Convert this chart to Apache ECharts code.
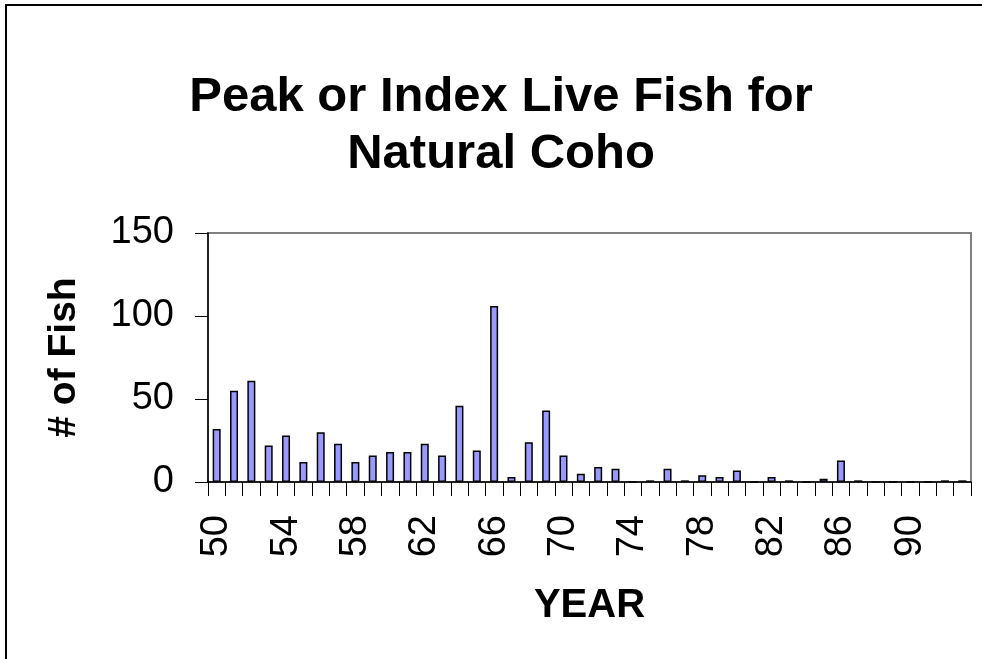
<!DOCTYPE html>
<html>
<head>
<meta charset="utf-8">
<script src="https://cdn.jsdelivr.net/npm/echarts@6/dist/echarts.min.js"></script>
<style>
  html, body { margin: 0; padding: 0; background: #fff; }
  #chart { width: 982px; height: 659px; }
</style>
</head>
<body>
<div id="chart"></div>
<script>
// years (two-digit, 1950-1993)
const years = ['50','51','52','53','54','55','56','57','58','59',
  '60','61','62','63','64','65','66','67','68','69',
  '70','71','72','73','74','75','76','77','78','79',
  '80','81','82','83','84','85','86','87','88','89',
  '90','91','92','93'];

// peak or index live fish count
const fishCounts = [32, 55, 61, 22, 28, 12, 30, 23, 12, 16,
  18, 18, 23, 16, 46, 19, 106, 3, 24, 43,
  16, 5, 9, 8, 0, 1, 8, 1, 4, 3,
  7, 0, 3, 1, 0, 2, 13, 1, 0, 0,
  0, 0, 1, 1];

const yTicks = [0, 50, 100, 150];

const font = 'Arial, "Liberation Sans", sans-serif';

let myChart = echarts.init(document.getElementById('chart'));

let option = {
  backgroundColor: '#fff',
  animation: false,
  title: {
    text: 'Peak or Index Live Fish for\nNatural Coho',
    left: 496,
    top: 64,
    textAlign: 'center',
    textStyle: {
      fontFamily: font,
      fontSize: 49,
      fontWeight: 'bold',
      color: '#000',
      lineHeight: 57,
    },
  },
  grid: {
    left: 208,
    right: 11,
    top: 233,
    bottom: 177,
    show: true,
    borderColor: '#808080',
    borderWidth: 2,
    backgroundColor: 'transparent',
  },
  xAxis: {
    type: 'category',
    data: years,
    name: 'YEAR',
    nameLocation: 'middle',
    nameGap: 104,
    nameTextStyle: { fontFamily: font, fontSize: 40, fontWeight: 'bold', color: '#000' },
    axisLine: { lineStyle: { color: '#000', width: 1.5 } },
    axisTick: { show: true, interval: 0, length: 14, lineStyle: { color: '#000' } },
    axisLabel: {
      interval: 3,
      rotate: 90,
      margin: 33,
      fontFamily: font,
      fontSize: 38,
      color: '#000',
    },
  },
  yAxis: {
    type: 'value',
    min: yTicks[0],
    max: yTicks[yTicks.length - 1],
    interval: 50,
    name: '# of Fish',
    nameLocation: 'middle',
    nameGap: 124,
    nameTextStyle: { fontFamily: font, fontSize: 39, fontWeight: 'bold', color: '#000' },
    axisLine: { show: true, lineStyle: { color: '#000', width: 1.5 } },
    axisTick: { show: true, length: 13, lineStyle: { color: '#000' } },
    splitLine: { show: false },
    axisLabel: {
      margin: 34,
      fontFamily: font,
      fontSize: 38,
      color: '#000',
    },
  },
  series: [
    {
      type: 'bar',
      data: fishCounts,
      barWidth: 8,
      itemStyle: {
        color: '#9999FF',
        borderColor: '#000',
        borderWidth: 1.5,
      },
    },
  ],
  graphic: [
    {
      // outer chart frame: only left and top edges fall inside the picture
      type: 'polyline',
      shape: { points: [[6, 2000], [6, 5], [2000, 5]] },
      style: { fill: 'none', stroke: '#000', lineWidth: 2 },
      silent: true,
    },
  ],
};

myChart.setOption(option);
</script>
</body>
</html>
